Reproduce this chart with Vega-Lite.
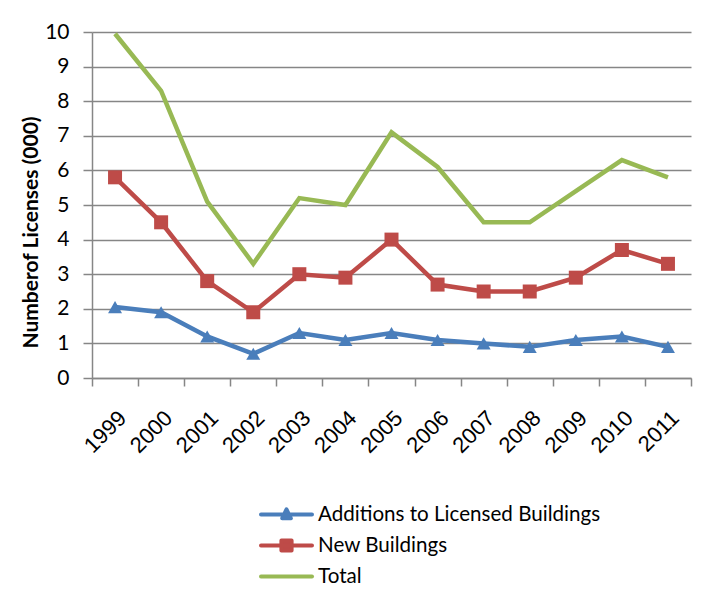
{
  "$schema": "https://vega.github.io/schema/vega-lite/v6.json",
  "width": 599,
  "height": 346,
  "autosize": "none",
  "padding": {"left": 92, "top": 32, "right": 32, "bottom": 227},
  "background": "white",
  "data": {
    "values": [
      {"year": "1999", "series": "Additions to Licensed Buildings", "value": 2.05},
      {"year": "2000", "series": "Additions to Licensed Buildings", "value": 1.9},
      {"year": "2001", "series": "Additions to Licensed Buildings", "value": 1.2},
      {"year": "2002", "series": "Additions to Licensed Buildings", "value": 0.7},
      {"year": "2003", "series": "Additions to Licensed Buildings", "value": 1.3},
      {"year": "2004", "series": "Additions to Licensed Buildings", "value": 1.1},
      {"year": "2005", "series": "Additions to Licensed Buildings", "value": 1.3},
      {"year": "2006", "series": "Additions to Licensed Buildings", "value": 1.1},
      {"year": "2007", "series": "Additions to Licensed Buildings", "value": 1.0},
      {"year": "2008", "series": "Additions to Licensed Buildings", "value": 0.9},
      {"year": "2009", "series": "Additions to Licensed Buildings", "value": 1.1},
      {"year": "2010", "series": "Additions to Licensed Buildings", "value": 1.2},
      {"year": "2011", "series": "Additions to Licensed Buildings", "value": 0.9},
      {"year": "1999", "series": "New Buildings", "value": 5.8},
      {"year": "2000", "series": "New Buildings", "value": 4.5},
      {"year": "2001", "series": "New Buildings", "value": 2.8},
      {"year": "2002", "series": "New Buildings", "value": 1.9},
      {"year": "2003", "series": "New Buildings", "value": 3.0},
      {"year": "2004", "series": "New Buildings", "value": 2.9},
      {"year": "2005", "series": "New Buildings", "value": 4.0},
      {"year": "2006", "series": "New Buildings", "value": 2.7},
      {"year": "2007", "series": "New Buildings", "value": 2.5},
      {"year": "2008", "series": "New Buildings", "value": 2.5},
      {"year": "2009", "series": "New Buildings", "value": 2.9},
      {"year": "2010", "series": "New Buildings", "value": 3.7},
      {"year": "2011", "series": "New Buildings", "value": 3.3},
      {"year": "1999", "series": "Total", "value": 9.95},
      {"year": "2000", "series": "Total", "value": 8.3},
      {"year": "2001", "series": "Total", "value": 5.1},
      {"year": "2002", "series": "Total", "value": 3.3},
      {"year": "2003", "series": "Total", "value": 5.2},
      {"year": "2004", "series": "Total", "value": 5.0},
      {"year": "2005", "series": "Total", "value": 7.1},
      {"year": "2006", "series": "Total", "value": 6.1},
      {"year": "2007", "series": "Total", "value": 4.5},
      {"year": "2008", "series": "Total", "value": 4.5},
      {"year": "2009", "series": "Total", "value": 5.4},
      {"year": "2010", "series": "Total", "value": 6.3},
      {"year": "2011", "series": "Total", "value": 5.8}
    ]
  },
  "encoding": {
    "x": {
      "field": "year",
      "type": "ordinal",
      "bandPosition": 0.5,
      "scale": {"type": "band", "paddingInner": 0, "paddingOuter": 0},
      "axis": {
        "title": null,
        "labelAngle": -45,
        "labelAlign": "right",
        "labelBaseline": "top",
        "labelPadding": 21,
        "labelFont": "Liberation Sans",
        "labelFontSize": 22,
        "labelColor": "black",
        "tickBand": "extent",
        "tickSize": 8,
        "tickColor": "#868686",
        "tickWidth": 1.5,
        "domainColor": "#868686",
        "domainWidth": 1.5,
        "grid": false
      }
    },
    "y": {
      "field": "value",
      "type": "quantitative",
      "scale": {"domain": [0, 10], "nice": false},
      "axis": {
        "title": "Numberof Licenses (000)",
        "titleFont": "Lato",
        "titleFontWeight": "bold",
        "titleFontSize": 21,
        "titleColor": "black",
        "titleX": -61,
        "titleY": 200,
        "titleAngle": -90,
        "titleAlign": "center",
        "titleBaseline": "middle",
        "values": [0, 1, 2, 3, 4, 5, 6, 7, 8, 9, 10],
        "labelFont": "Lato",
        "labelFontSize": 21,
        "labelColor": "black",
        "labelPadding": 14,
        "tickSize": 9,
        "tickColor": "#868686",
        "tickWidth": 1.5,
        "domainColor": "#868686",
        "domainWidth": 1.5,
        "grid": true,
        "gridColor": "#868686",
        "gridWidth": 1.5
      }
    },
    "color": {
      "field": "series",
      "type": "nominal",
      "scale": {
        "domain": ["Additions to Licensed Buildings", "New Buildings", "Total"],
        "range": ["#4A7EBB", "#BE4B48", "#98B954"]
      },
      "legend": {
        "title": null,
        "orient": "none",
        "legendX": 167,
        "legendY": 467,
        "labelFont": "Lato",
        "labelFontSize": 20.6,
        "labelLimit": 500,
        "labelColor": "black",
        "labelOffset": 4,
        "symbolType": "M-1,0H1",
        "symbolSize": 2601,
        "symbolStrokeWidth": 4,
        "clipHeight": 31,
        "rowPadding": 0,
        "encode": {
          "symbols": {
            "update": {
              "shape": {"signal": "datum.value === 'Total' ? 'M-1,0H1' : datum.value === 'New Buildings' ? 'M-1,0H1M-0.2,-0.2H0.2V0.2H-0.2Z' : 'M-1,0H1M0,-0.2L0.17,0.15L-0.17,0.15Z'"},
              "fill": {"scale": "color", "field": "value"},
              "strokeJoin": {"value": "round"},
              "strokeCap": {"value": "round"}
            }
          }
        }
      }
    }
  },
  "layer": [
    {
      "mark": {"type": "line", "strokeWidth": 4.5}
    },
    {
      "transform": [{"filter": "datum.series !== 'Total'"}],
      "mark": {"type": "point", "filled": true, "opacity": 1, "size": 196},
      "encoding": {
        "shape": {
          "field": "series",
          "type": "nominal",
          "scale": {
            "domain": ["Additions to Licensed Buildings", "New Buildings"],
            "range": ["triangle-up", "square"]
          },
          "legend": null
        }
      }
    }
  ],
  "config": {
    "view": {"stroke": null}
  }
}
